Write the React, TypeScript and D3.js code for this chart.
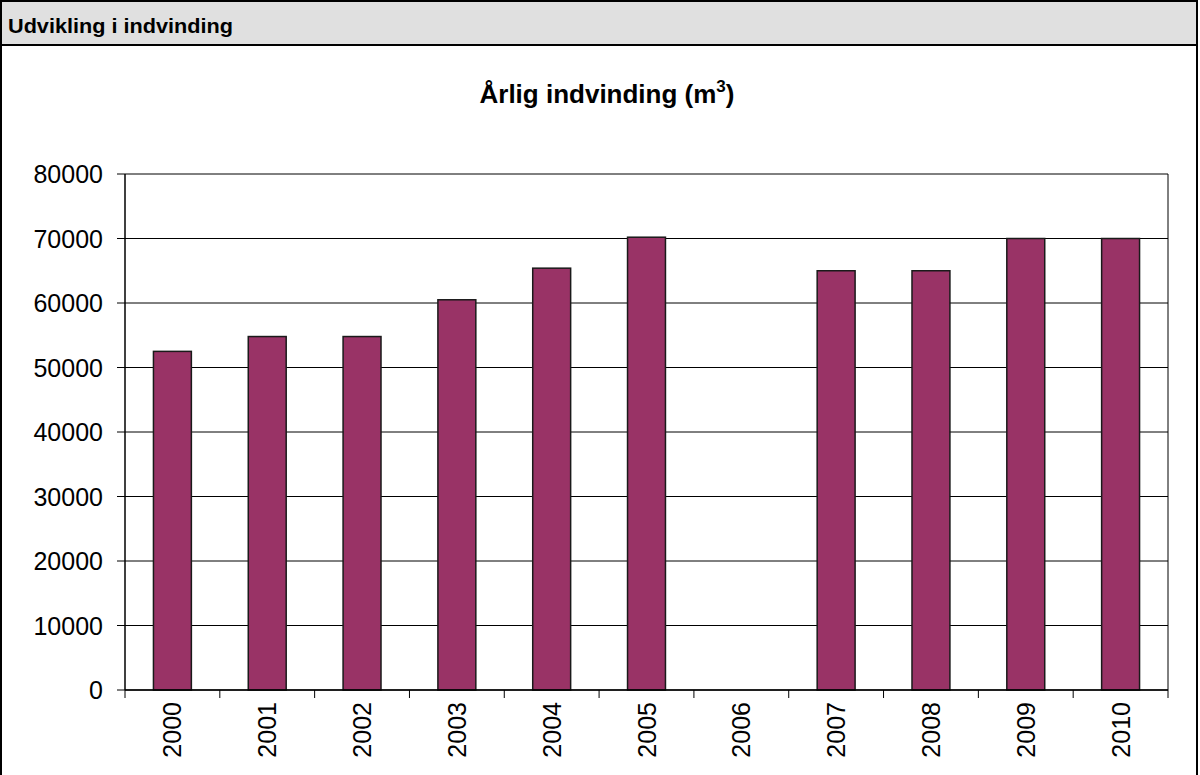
import * as d3 from "d3";

// Årlig indvinding, m3 per år (2006 mangler)
const years = ["2000", "2001", "2002", "2003", "2004", "2005", "2006", "2007", "2008", "2009", "2010"];
const volumes = [52500, 54800, 54800, 60500, 65400, 70200, 0, 65000, 65000, 70000, 70000];
const yTicks = [0, 10000, 20000, 30000, 40000, 50000, 60000, 70000, 80000];

const W = 1200;
const H = 775;
const margin = { top: 174, right: 32, bottom: 85, left: 125 };

const App = () => {
    const x = d3.scaleBand<string>()
        .domain(years)
        .range([margin.left, W - margin.right])
        .paddingInner(0.6)
        .paddingOuter(0.3);
    const step = x.step();
    const band = d3.scaleBand<string>().domain(years).range([margin.left, W - margin.right]);
    const y = d3.scaleLinear().domain([0, 80000]).range([H - margin.bottom, margin.top]);

    const plotL = margin.left;
    const plotR = W - margin.right;
    const y0 = y(0);

    return (
        <svg width={W} height={H} style={{ position: "absolute", left: 0, top: 0 }}
            fontFamily="Arial, 'Liberation Sans', sans-serif">
            <rect x={0} y={0} width={W} height={H} fill="#fff" />
            {/* header band */}
            <rect x={1} y={1} width={W - 4} height={44} fill="#e0e0e0" stroke="#000" strokeWidth={2} />
            <line x1={1} x2={1} y1={45} y2={H} stroke="#000" strokeWidth={2} />
            <line x1={W - 3} x2={W - 3} y1={45} y2={H} stroke="#000" strokeWidth={2} />
            <text x={8} y={33} fontSize={21} fontWeight="bold"
                fontFamily="'Liberation Sans Narrow', 'Liberation Sans', Arial, sans-serif"
                textLength={225} lengthAdjust="spacingAndGlyphs">Udvikling i indvinding</text>

            <text x={607} y={103} fontSize={26} fontWeight="bold" textAnchor="middle">
                Årlig indvinding (m<tspan fontSize={17} dy={-11}>3</tspan><tspan dy={11}>)</tspan>
            </text>

            {/* gridlines */}
            {yTicks.map(t => (
                <line key={t} x1={plotL} x2={plotR} y1={y(t)} y2={y(t)} stroke="#000" strokeWidth={1} />
            ))}
            <line x1={plotR} x2={plotR} y1={y(80000)} y2={y0} stroke="#000" strokeWidth={1} />

            {/* bars */}
            {years.map((yr, i) => volumes[i] > 0 && (
                <rect key={yr} x={x(yr)} y={y(volumes[i])} width={x.bandwidth()}
                    height={y0 - y(volumes[i])} fill="#993366" stroke="#1a1a1a" strokeWidth={1.5} />
            ))}

            {/* y axis */}
            <line x1={plotL} x2={plotL} y1={y(80000)} y2={y0} stroke="#000" strokeWidth={1.5} />
            {yTicks.map(t => (
                <g key={t}>
                    <line x1={plotL - 8} x2={plotL} y1={y(t)} y2={y(t)} stroke="#000" />
                    <text x={plotL - 22} y={y(t)} dy="0.36em" fontSize={25} textAnchor="end">{t}</text>
                </g>
            ))}

            {/* x axis */}
            <line x1={plotL} x2={plotR} y1={y0} y2={y0} stroke="#000" strokeWidth={1.5} />
            {years.map(yr => (
                <line key={yr} x1={band(yr)} x2={band(yr)} y1={y0} y2={y0 + 8} stroke="#000" />
            ))}
            <line x1={plotR} x2={plotR} y1={y0} y2={y0 + 8} stroke="#000" />
            {years.map(yr => {
                const cx = (band(yr) ?? 0) + step / 2;
                return (
                    <text key={yr} transform={`translate(${cx},${y0 + 12}) rotate(-90)`}
                        dy="0.36em" fontSize={25} textAnchor="end">{yr}</text>
                );
            })}
        </svg>
    );
};

export default App;
